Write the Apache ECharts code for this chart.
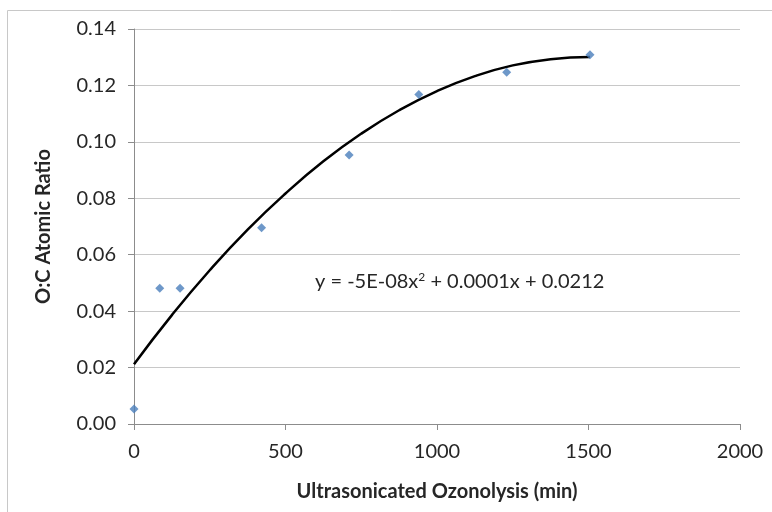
<!DOCTYPE html>
<html>
<head>
<meta charset="utf-8">
<script src="https://cdn.jsdelivr.net/npm/echarts@6/dist/echarts.min.js"></script>
<style>
  html, body { margin: 0; padding: 0; background: #fff; }
  #chart { width: 772px; height: 512px; }
</style>
</head>
<body>
<div id="chart"></div>
<script>
// measured points
const timeMin = [0, 85, 152, 421, 710, 940, 1230, 1505];
const ocRatio = [0.0053, 0.0481, 0.0481, 0.0696, 0.0953, 0.1168, 0.1247, 0.1309];
// trendline
const trendX = [0, 125, 250, 375, 500, 625, 750, 875, 1000, 1125, 1250, 1375, 1505];
const trendY = [0.0212, 0.0386, 0.0545, 0.0689, 0.0817, 0.0931, 0.1029, 0.1112, 0.118, 0.1233, 0.1271, 0.1293, 0.1301];

const font = "Lato, 'Open Sans', sans-serif";
const txt = "#262626";
const myChart = echarts.init(document.getElementById("chart"));

myChart.setOption({
  animation: false,
  grid: { left: 134, right: 32, top: 29, bottom: 88 },
  graphic: [
    {
      type: "rect",
      shape: { x: 7.5, y: 10.5, width: 900, height: 700 },
      style: { fill: "none", stroke: "#c8c8c8", lineWidth: 1 },
    },
    {
      type: "text",
      left: 315,
      top: 271,
      style: {
        text: "y = -5E-08x{s|2} + 0.0001x + 0.0212",
        font: "20px " + font,
        fill: txt,
        rich: {
          s: { fontSize: 12, fontFamily: font, verticalAlign: "top", padding: [0, 0, 9, 0] },
        },
      },
    },
  ],
  xAxis: {
    type: "value",
    min: 0,
    max: 2000,
    interval: 500,
    name: "Ultrasonicated Ozonolysis (min)",
    nameLocation: "middle",
    nameGap: 58,
    nameTextStyle: { fontFamily: font, fontSize: 20, fontWeight: "bold", color: txt },
    axisLine: { lineStyle: { color: "#8c8c8c" } },
    axisTick: { show: true, length: 6, lineStyle: { color: "#8c8c8c" } },
    axisLabel: { margin: 18, fontFamily: font, fontSize: 20, color: txt, formatter: (v) => String(v) },
    splitLine: { show: false },
  },
  yAxis: {
    type: "value",
    min: 0,
    max: 0.14,
    interval: 0.02,
    name: "O:C Atomic Ratio",
    nameLocation: "middle",
    nameGap: 80,
    nameTextStyle: { fontFamily: font, fontSize: 20, fontWeight: "bold", color: txt },
    axisLine: { show: true, lineStyle: { color: "#8c8c8c" } },
    axisTick: { show: true, length: 6, lineStyle: { color: "#8c8c8c" } },
    axisLabel: {
      margin: 18,
      fontFamily: font,
      fontSize: 20,
      color: txt,
      formatter: (v) => v.toFixed(2),
    },
    splitLine: { show: true, lineStyle: { color: "#c8c8c8" } },
  },
  series: [
    {
      type: "line",
      data: trendX.map((x, i) => [x, trendY[i]]),
      smooth: true,
      showSymbol: false,
      lineStyle: { color: "#000", width: 2.5 },
      z: 2,
    },
    {
      type: "scatter",
      data: timeMin.map((x, i) => [x, ocRatio[i]]),
      symbol: "diamond",
      symbolSize: 9,
      itemStyle: { color: "#4a7ebb" },
      z: 3,
    },
  ],
});
</script>
</body>
</html>
